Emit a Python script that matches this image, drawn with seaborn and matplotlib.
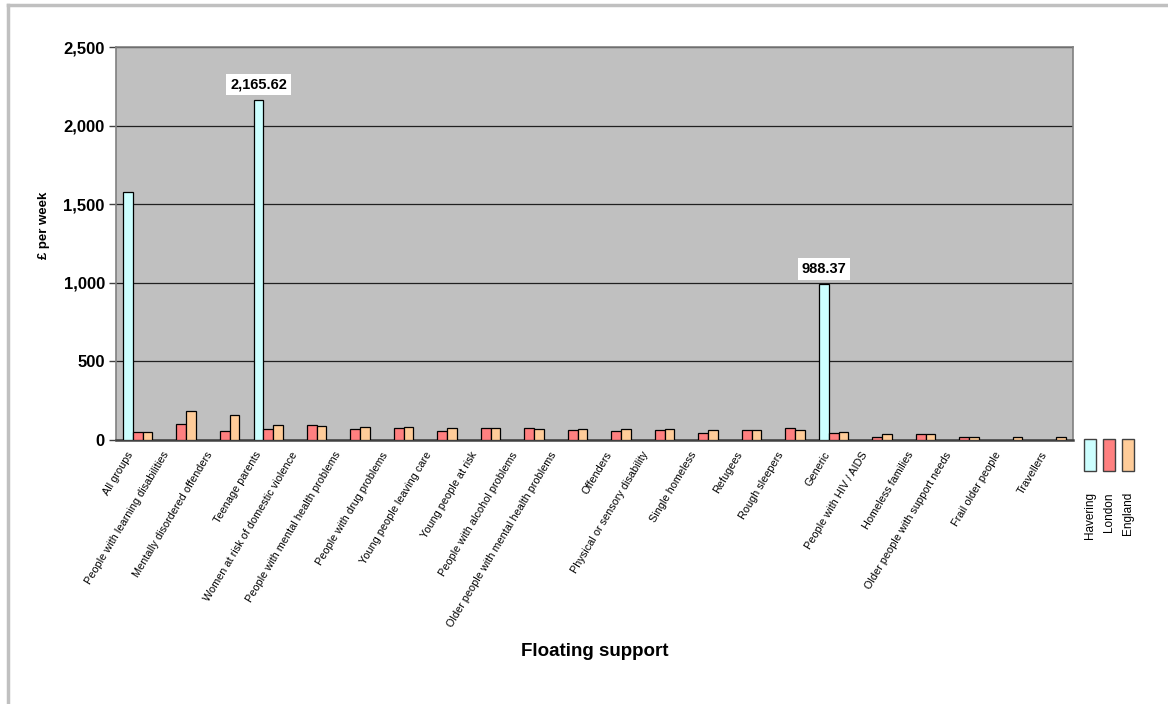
import numpy as np
import pandas as pd
import matplotlib
matplotlib.use("Agg")
import matplotlib.pyplot as plt
from matplotlib.patches import Rectangle
from matplotlib.lines import Line2D
from matplotlib.transforms import ScaledTranslation
import seaborn as sns

categories = [
    "All groups",
    "People with learning disabilities",
    "Mentally disordered offenders",
    "Teenage parents",
    "Women at risk of domestic violence",
    "People with mental health problems",
    "People with drug problems",
    "Young people leaving care",
    "Young people at risk",
    "People with alcohol problems",
    "Older people with mental health problems",
    "Offenders",
    "Physical or sensory disability",
    "Single homeless",
    "Refugees",
    "Rough sleepers",
    "Generic",
    "People with HIV / AIDS",
    "Homeless families",
    "Older people with support needs",
    "Frail older people",
    "Travellers",
]
series = ["Havering", "London", "England"]
nan = np.nan
havering = [1577, nan, nan, 2165.62, nan, nan, nan, nan, nan, nan, nan,
            nan, nan, nan, nan, nan, 988.37, nan, nan, nan, nan, nan]
london = [45, 100, 54, 67, 94, 67, 75, 54, 73, 75, 62,
          56, 62, 43, 62, 73, 43, 19, 32, 17, nan, nan]
england = [49, 182, 158, 90, 86, 80, 80, 75, 73, 70, 68,
           70, 66, 60, 60, 58, 49, 38, 32, 19, 17, 15]
labelled = {"Teenage parents": "2,165.62", "Generic": "988.37"}
colors = ["#CCFFFF", "#FF8080", "#FFCC99"]
y_ticks = [0, 500, 1000, 1500, 2000, 2500]

df = pd.DataFrame({
    "category": categories * 3,
    "series": [s for s in series for _ in categories],
    "value": havering + london + england,
}).dropna()

plt.rcParams["font.family"] = ["Liberation Sans", "DejaVu Sans"]
fig = plt.figure(figsize=(11.68, 7.04), dpi=100)
ax = fig.add_axes([0.0993, 0.3757, 0.8194, 0.5575])

sns.barplot(data=df, x="category", y="value", hue="series",
            order=categories, hue_order=series, palette=colors,
            width=0.67, edgecolor="black", linewidth=0.9,
            saturation=1, errorbar=None, legend=False, ax=ax, zorder=3)

ax.set_facecolor("#C0C0C0")
ax.set_xlim(-0.5, len(categories) - 0.5)
ax.set_ylim(0, 2500)
ax.set_yticks(y_ticks)
ax.set_yticklabels([f"{v:,}" for v in y_ticks], fontsize=12, fontweight="bold")
ax.yaxis.grid(True, color="#202020", linewidth=0.9, zorder=0)
ax.set_axisbelow(True)
ax.tick_params(axis="y", length=5, width=1, color="#404040", pad=3)
ax.tick_params(axis="x", length=0, pad=4)
ax.set_xticks(range(len(categories)))
ax.set_xticklabels(categories, rotation=59, ha="right",
                   rotation_mode="anchor", fontsize=7.8)
for side in ["left", "top", "right"]:
    ax.spines[side].set_color("#808080")
    ax.spines[side].set_linewidth(1.2)
ax.spines["bottom"].set_color("#404040")
ax.spines["bottom"].set_linewidth(1.8)

# longer category names sit further left of their tick
fig.canvas.draw()
renderer = fig.canvas.get_renderer()
for lab in ax.get_xticklabels():
    ext = lab.get_window_extent(renderer)
    length = ext.height / np.sin(np.radians(59))
    dx = -(7 + 0.077 * length) / 100
    lab.set_transform(lab.get_transform()
                      + ScaledTranslation(dx, -0.05, fig.dpi_scale_trans))

ax.set_xlabel("")
ax.set_ylabel("£ per week", fontsize=9.5, fontweight="bold")
ax.yaxis.set_label_coords(-0.069, 0.546)
fig.text(0.509, 0.075, "Floating support", ha="center", va="center",
         fontsize=13.5, fontweight="bold")

# value labels above the highlighted Havering bars
dodge = 0.67 / 3
for cat, text in labelled.items():
    i = categories.index(cat)
    ax.annotate(text, xy=(i - dodge, havering[i]), xytext=(0, 6),
                textcoords="offset points", ha="center", va="bottom",
                fontsize=10.5, fontweight="bold", zorder=5,
                bbox=dict(boxstyle="square,pad=0.25", fc="white", ec="none"))

# legend: vertical swatches with rotated names beneath
sw_x = [1084, 1103, 1122]
for x0, name, c in zip(sw_x, series, colors):
    fig.add_artist(Rectangle((x0 / 1168, 1 - 471 / 704), 12 / 1168, 32 / 704,
                             transform=fig.transFigure, facecolor=c,
                             edgecolor="#404040", linewidth=1.0))
    fig.text((x0 + 6) / 1168, 1 - 492 / 704, name, rotation=90,
             ha="center", va="top", fontsize=8.5)

# outer frame
fig.add_artist(Line2D([8 / 1168, 1], [1 - 4.5 / 704, 1 - 4.5 / 704],
                      transform=fig.transFigure, color="#C0C0C0", linewidth=2.5))
fig.add_artist(Line2D([8 / 1168, 8 / 1168], [0, 1 - 4.5 / 704],
                      transform=fig.transFigure, color="#C0C0C0", linewidth=2.5))

fig.savefig("out.png", dpi=100, facecolor="white")
